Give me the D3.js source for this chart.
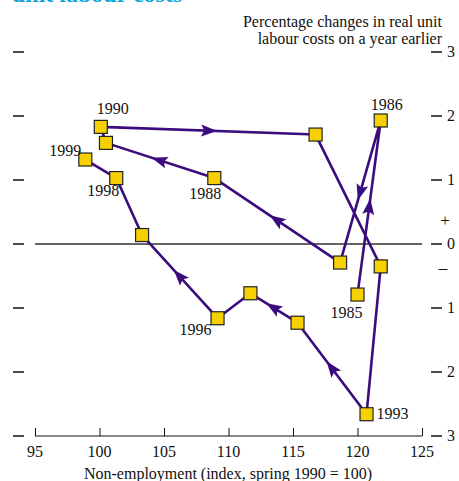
<!DOCTYPE html>
<html><head><meta charset="utf-8">
<script src="https://cdn.jsdelivr.net/npm/d3@7/dist/d3.min.js"></script>
<style>body{margin:0;background:#fff}svg{display:block}text{font-family:"Liberation Serif","Times New Roman",serif}</style>
</head><body>
<script>
const years = [1985,1986,1987,1988,1989,1990,1991,1992,1993,1994,1995,1996,1997,1998,1999];
const nonEmployment = [120.0,121.8,118.65,108.9,100.5,100.1,116.75,121.8,120.7,115.35,111.7,109.15,103.3,101.3,98.9];
const ulcChange = [-0.79,1.93,-0.29,1.03,1.58,1.83,1.71,-0.35,-2.66,-1.23,-0.77,-1.16,0.14,1.03,1.32];
const labelledYears = [1985,1986,1988,1990,1993,1996,1998,1999];
const arrowFrom = [1985,1986,1987,1988,1990,1993,1994,1996];
const xTicks = [95,100,105,110,115,120,125];
const yTicks = [3,2,1,0,-1,-2,-3];

const W=459,H=481,FS=16;
const svg=d3.select("body").append("svg").attr("width",W).attr("height",H);
const x=d3.scaleLinear().domain([95,125]).range([35,422]);
const y=d3.scaleLinear().domain([-3,3]).range([436,52]);
const purple="#3a0c7e";

// clipped title fragment (cut off at the top, as in the source)
svg.append("text").attr("x",12).attr("y",2).attr("font-size",24).attr("font-weight","bold")
  .attr("fill","#10a4dc").text("unit labour costs");

// axis titles
const t=svg.append("text").attr("text-anchor","end").attr("font-size",FS).attr("fill","#111");
t.append("tspan").attr("x",442).attr("y",27).text("Percentage changes in real unit");
t.append("tspan").attr("x",442).attr("y",44).text("labour costs on a year earlier");
svg.append("text").attr("x",228).attr("y",479).attr("text-anchor","middle").attr("font-size",FS).attr("fill","#111")
  .text("Non-employment (index, spring 1990 = 100)");

// y tick dashes left and right
svg.selectAll(".yl").data(yTicks).join("line").attr("x1",13).attr("x2",24)
  .attr("y1",d=>y(d)).attr("y2",d=>y(d)).attr("stroke","#111").attr("stroke-width",1.5);
svg.selectAll(".yr").data(yTicks).join("line").attr("x1",431).attr("x2",442)
  .attr("y1",d=>y(d)).attr("y2",d=>y(d)).attr("stroke","#111").attr("stroke-width",1.5);
svg.selectAll(".ylab").data(yTicks).join("text").attr("x",447).attr("y",d=>y(d)+5)
  .attr("font-size",FS).attr("fill","#111").text(d=>Math.abs(d));
svg.append("text").attr("x",445).attr("y",y(0)-18).attr("text-anchor","middle").attr("font-size",FS+1).attr("fill","#111").text("+");
svg.append("text").attr("x",443).attr("y",y(0)+29).attr("text-anchor","middle").attr("font-size",FS+1).attr("fill","#111").text("\u2013");

// zero line
svg.append("line").attr("x1",x(95)).attr("x2",x(125)).attr("y1",y(0)).attr("y2",y(0)).attr("stroke","#333").attr("stroke-width",1.5);

// x axis
const xAxis=d3.axisTop(x).tickValues(xTicks).tickSize(8).tickFormat("");
const gx=svg.append("g").attr("transform",`translate(0,${y(-3)})`).call(xAxis);
gx.select(".domain").attr("d",`M${x(95)},0H${x(125)}`).attr("stroke","#111");
gx.selectAll(".tick line").attr("stroke","#111");
svg.selectAll(".xlab").data(xTicks).join("text").attr("x",d=>x(d)).attr("y",457)
  .attr("text-anchor","middle").attr("font-size",FS).attr("fill","#111").text(d=>d);

// path
const pts=years.map((yr,i)=>({yr,px:x(nonEmployment[i]),py:y(ulcChange[i])}));
svg.append("path").attr("d",d3.line().x(d=>d.px).y(d=>d.py)(pts)).attr("fill","none")
  .attr("stroke",purple).attr("stroke-width",2.6).attr("stroke-linejoin","round");

// arrows
arrowFrom.forEach(yr=>{
  const i=years.indexOf(yr),a=pts[i],b=pts[i+1];
  const mx=(a.px+b.px)/2,my=(a.py+b.py)/2;
  const ang=Math.atan2(b.py-a.py,b.px-a.px)*180/Math.PI;
  svg.append("path").attr("d","M9,0L-7,-6L-4,0L-7,6Z").attr("fill",purple)
    .attr("transform",`translate(${mx},${my}) rotate(${ang})`);
});

// markers
svg.selectAll(".mk").data(pts).join("rect").attr("x",d=>d.px-6.5).attr("y",d=>d.py-6.5)
  .attr("width",13).attr("height",13).attr("fill","#f6d000").attr("stroke","#222").attr("stroke-width",1.2);

// labels
const labelPos={1985:[-11,23,"middle"],1986:[6,-10,"middle"],1988:[-9,21,"middle"],1990:[12,-13,"middle"],
  1993:[10,5,"start"],1996:[-22,17,"middle"],1998:[-13,18,"middle"],1999:[-20,-4,"middle"]};
svg.selectAll(".lab").data(pts.filter(d=>labelledYears.includes(d.yr))).join("text")
  .attr("x",d=>d.px+labelPos[d.yr][0]).attr("y",d=>d.py+labelPos[d.yr][1])
  .attr("text-anchor",d=>labelPos[d.yr][2]).attr("font-size",FS).attr("fill","#111").text(d=>d.yr);
</script>
</body></html>
